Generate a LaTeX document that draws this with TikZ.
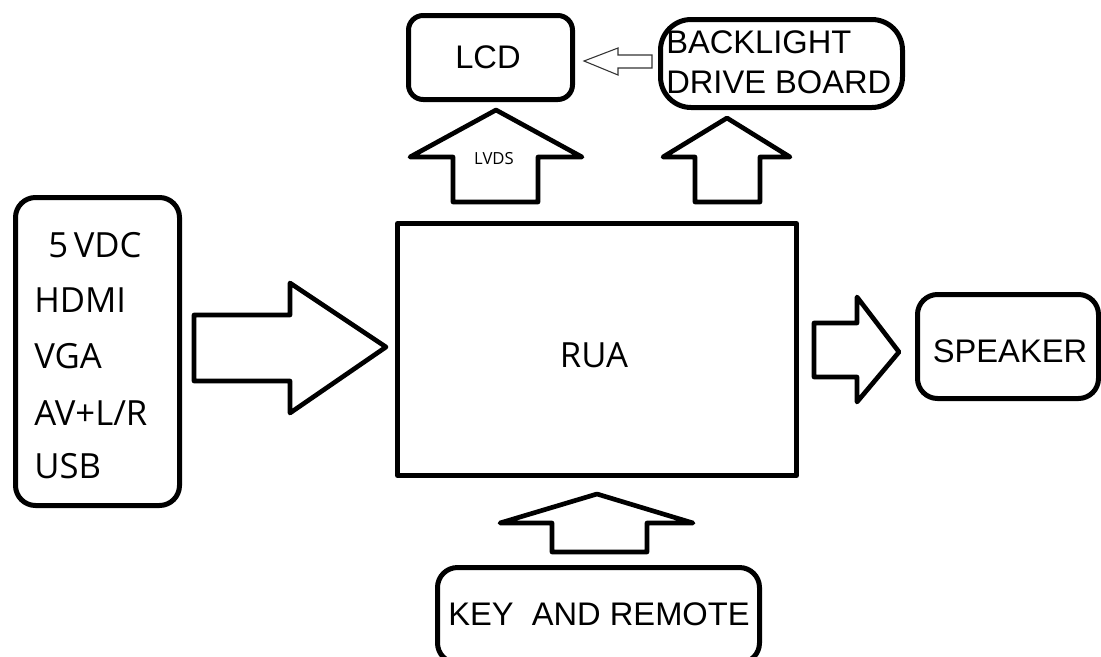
\documentclass[tikz,border=0pt]{standalone}
\usepackage{fontspec}
\setmainfont{Liberation Sans}
\newfontfamily\segoe{Open Sans}
\begin{document}
\begin{tikzpicture}[x=0.75pt,y=-0.75pt,
  blk/.style={draw, line width=3.75pt, line join=round, inner sep=0pt, outer sep=0pt, rectangle},
  rbox/.style={blk, rounded corners=#1},
  barrow/.style={draw, line width=3.5pt, line join=round, fill=white},
  thinarrow/.style={draw=black!80, line width=0.8pt, line join=miter},
  lbl/.style={font=\fontsize{24.5}{30}\selectfont, anchor=base, inner sep=0pt},
  lblw/.style={lbl, anchor=base west},
  slbl/.style={font=\segoe\fontsize{26}{30}\selectfont, anchor=base west, inner sep=0pt}]
\useasboundingbox (0,0) rectangle (1101,657);
\fill[white] (0,0) rectangle (1101,657);
\clip (0,0) rectangle (1101,657);

% boxes
\node[rbox=11pt, minimum width=123pt, minimum height=63pt] (lcd) at (490.5,57.5) {};
\node[rbox=23pt, minimum width=181.5pt, minimum height=66pt] (bl) at (781.5,63.5) {};
\node[rbox=15pt, minimum width=123pt, minimum height=231pt] (inp) at (97.5,351.5) {};
\node[blk, minimum width=299.25pt, minimum height=189pt] (rua) at (597,349.5) {};
\node[rbox=15pt, minimum width=135.75pt, minimum height=78pt] (spk) at (1008,346.5) {};
\node[rbox=15pt, minimum width=241.5pt, minimum height=71.6pt] (key) at (598.5,615.25) {};

% texts
\node[lbl] (lcdt) at (488,68) {LCD};
\node[lblw] (blt1) at (666,53) {BACKLIGHT};
\node[lblw] (blt2) at (666,93) {DRIVE BOARD};
\node[lbl] (spkt) at (1010,362) {SPEAKER};
\node[lbl] (keyt) at (599,625) {KEY\ \ AND REMOTE};
\node[font=\segoe\fontsize{26}{30}\selectfont, anchor=base, inner sep=0pt] (ruat) at (594,367) {RUA};
\node[slbl] (in1) at (48,257) {5\,VDC};
\node[slbl] (in2) at (34,312) {HDMI};
\node[slbl] (in3) at (34,368) {VGA};
\node[slbl] (in4) at (34,425) {AV+L/R};
\node[slbl] (in5) at (34,478) {USB};

% block arrows
\draw[barrow] (453,202) -- (453,157) -- (410,157) -- (496,110) -- (582,157) -- (538,157) -- (538,202) -- cycle;
\node[font=\segoe\fontsize{12.5}{15}\selectfont, anchor=base, inner sep=0pt] (lvds) at (494,164.5) {LVDS};
\draw[barrow] (695,202) -- (695,157) -- (663,157) -- (727,118) -- (790,157) -- (760,157) -- (760,202) -- cycle;
\draw[barrow] (194,315) -- (290,315) -- (290,283) -- (386,347) -- (290,413) -- (290,381) -- (194,381) -- cycle;
\draw[barrow] (814,323) -- (857,323) -- (857,297) -- (899,352) -- (857,402) -- (857,377) -- (814,377) -- cycle;
\draw[barrow] (552,552) -- (552,523) -- (500,523) -- (597,494) -- (693,523) -- (647,523) -- (647,552) -- cycle;
\draw[thinarrow] (584,61) -- (618,48) -- (618,55) -- (652,55) -- (652,68) -- (618,68) -- (618,75) -- cycle;
\end{tikzpicture}
\end{document}
